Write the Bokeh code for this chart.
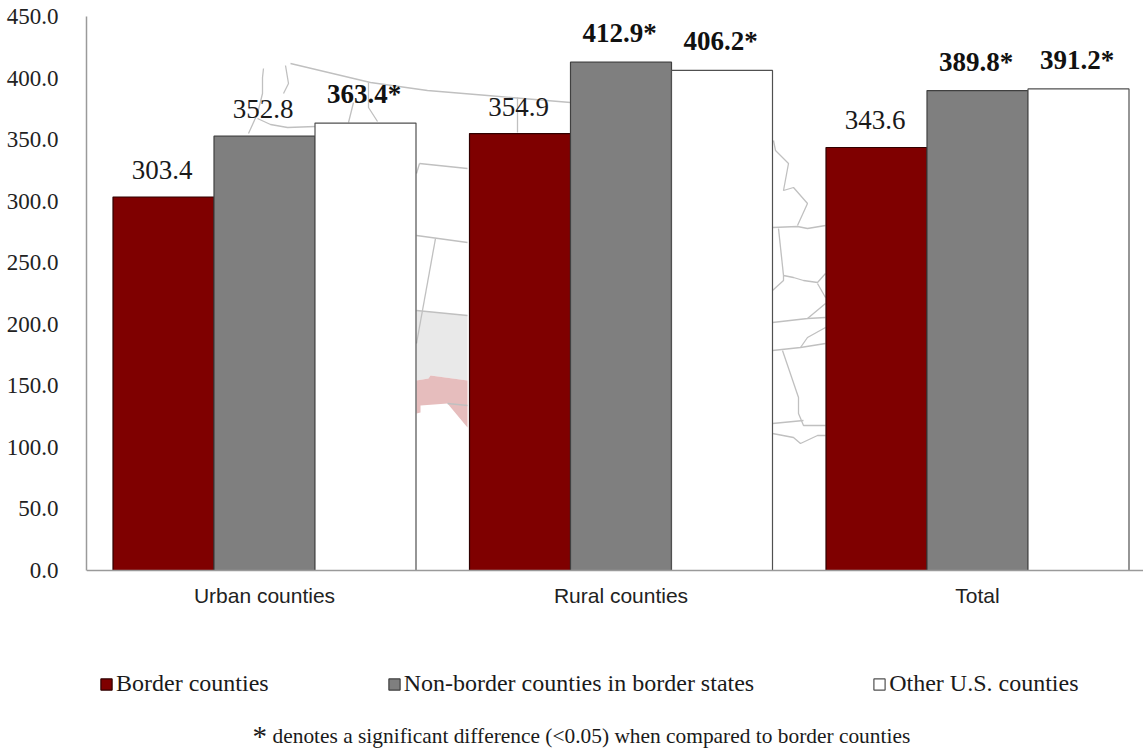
from bokeh.plotting import figure
from bokeh.embed import file_html
from bokeh.resources import INLINE
from bokeh.models import FixedTicker, Legend, LegendItem, Label, ColumnDataSource, NumeralTickFormatter
from bokeh.core.properties import value

# ---- chart data -------------------------------------------------------
categories = ["Urban counties", "Rural counties", "Total"]
series_names = ["Border counties", "Non-border counties in border states", "Other U.S. counties"]
border = [303.4, 354.9, 343.6]
nonborder = [352.8, 412.9, 389.8]
other = [363.4, 406.2, 391.2]
# which labels carry the significance star
nonborder_sig = [False, True, True]
other_sig = [True, True, True]
y_ticks = [0, 50, 100, 150, 200, 250, 300, 350, 400, 450]
footnote_star = "*"
footnote = "denotes a significant difference (<0.05) when compared to border counties"

# ---- faint map behind the bars (page pixels) ---
map_lines = [
    [(290, 63), (370, 82), (427, 90), (487, 95), (570, 102)],
    [(263, 68), (262, 77), (262, 93), (257, 113), (248, 133)],
    [(257, 118), (270, 124), (287, 127), (315, 126)],
    [(285, 65), (288, 83), (283, 93)],
    [(353, 102), (348, 122)],
    [(368, 82), (368, 107), (377, 121)],
    [(517, 97), (517, 132)],
    [(419, 163), (467, 168)],
    [(419, 163), (416, 173)],
    [(416, 235), (467, 242)],
    [(435, 238), (416, 343)],
    [(416, 310), (467, 315)],
    [(447, 403), (467, 405)],
    [(773, 140), (775, 150), (788, 163), (783, 190), (793, 187), (807, 203), (797, 225)],
    [(772, 227), (797, 226), (807, 228), (825, 225)],
    [(778, 228), (783, 275)],
    [(772, 290), (783, 280), (783, 275), (793, 277), (803, 280), (817, 282), (825, 273)],
    [(817, 283), (825, 297)],
    [(772, 322), (807, 318), (825, 303)],
    [(807, 318), (825, 317)],
    [(772, 350), (800, 347), (825, 343)],
    [(800, 347), (807, 337), (825, 327)],
    [(782, 350), (798, 397), (798, 413), (803, 425), (825, 425)],
    [(772, 423), (803, 420)],
    [(772, 433), (793, 437), (800, 443), (817, 435), (825, 435)],
]
map_grey = [(416, 310), (467, 315), (467, 380), (430, 375), (428, 378), (416, 380)]
map_red = [(416, 380), (428, 378), (430, 375), (467, 380), (467, 427), (447, 403),
           (420, 405), (420, 412), (416, 413)]

# ---- layout -----------------------------------------------------------
W, H = 1143, 751
LEFT, TOP = 86, 16
FRAME_W = W - LEFT
UNIT = 356.5                 # pixels per category
X0 = -(264 - 86) / UNIT      # left end of the x range
BAR = 101 / UNIT


def dx(px):
    return X0 + (px - 86) / UNIT


def dy(py):
    return (570 - py) * 450 / 554


# the frame runs to the page's bottom so that legend and footnote stay inside it
p = figure(width=W, height=H, output_backend="svg", toolbar_location=None,
           x_range=(X0, X0 + FRAME_W / UNIT), y_range=(dy(H), 450),
           min_border_left=LEFT, min_border_right=0, min_border_top=TOP, min_border_bottom=0)
p.outline_line_color = None
p.grid.visible = False
p.background_fill_color = "white"

# map
p.patch([dx(a) for a, b in map_grey], [dy(b) for a, b in map_grey], fill_color="#e9e9e9", line_color=None)
p.patch([dx(a) for a, b in map_red], [dy(b) for a, b in map_red], fill_color="#e6bdbd", line_color=None)
p.multi_line([[dx(a) for a, b in l] for l in map_lines], [[dy(b) for a, b in l] for l in map_lines],
             line_color="#c0c0c0", line_width=1.3)

# bars
groups = list(range(len(categories)))
styles = [(border, -1, "#7f0000", "#300000"), (nonborder, 0, "#7f7f7f", "#404040"), (other, 1, "#ffffff", "#505050")]
bars = []
for vals, off, fill, edge in styles:
    r = p.vbar(x=[g + off * BAR for g in groups], top=vals, width=BAR, bottom=0,
               fill_color=fill, line_color=edge, line_width=1.2)
    bars.append(r)

# value labels
plain = {"x": [], "y": [], "t": []}
bold = {"x": [], "y": [], "t": []}
for vals, off, sig in [(border, -1, [False] * 3), (nonborder, 0, nonborder_sig), (other, 1, other_sig)]:
    for g, v, s in zip(groups, vals, sig):
        d = bold if s else plain
        d["x"].append(g + off * BAR - 1.5 / UNIT)
        d["y"].append(v)
        d["t"].append(f"{v:.1f}" + ("*" if s else ""))
p.text(x="x", y="y", text="t", source=ColumnDataSource(plain), text_font=value("Liberation Serif"),
       text_font_size="27px", text_color="#1a1a1a", text_align="center", text_baseline="alphabetic", y_offset=-27)
p.text(x="x", y="y", text="t", source=ColumnDataSource(bold), text_font=value("Liberation Serif"),
       text_font_size="27px", text_font_style="bold", text_color="#111111", text_align="center",
       text_baseline="alphabetic", y_offset=-29)

# axes
ya = p.yaxis[0]
ya.ticker = FixedTicker(ticks=y_ticks)
ya.bounds = (0, 450)
ya.formatter = NumeralTickFormatter(format="0.0")
ya.major_tick_line_color = None
ya.minor_tick_line_color = None
ya.axis_line_color = "#9a9a9a"
ya.axis_line_width = 1.5
ya.major_label_text_font = "Liberation Serif"
ya.major_label_text_font_size = "23px"
ya.major_label_text_color = "#222222"
ya.major_label_standoff = 22

xa = p.xaxis[0]
xa.fixed_location = 0
xa.ticker = FixedTicker(ticks=groups)
xa.major_label_overrides = {g: c for g, c in zip(groups, categories)}
xa.major_tick_line_color = None
xa.minor_tick_line_color = None
xa.axis_line_color = "#9a9a9a"
xa.axis_line_width = 1.5
xa.major_label_text_font = "Liberation Sans"
xa.major_label_text_font_size = "21px"
xa.major_label_text_color = "#222222"
xa.major_label_standoff = 7

# legend
legend = Legend(items=[LegendItem(label=n, renderers=[r]) for n, r in zip(series_names, bars)],
                orientation="horizontal", location=(13, 54), margin=0, padding=0,
                spacing=118, glyph_width=14, glyph_height=14, label_standoff=3,
                label_text_font="Liberation Serif", label_text_font_size="24px", label_text_color="#1a1a1a",
                border_line_color=None, background_fill_alpha=0)
p.add_layout(legend, "center")

# footnote
p.add_layout(Label(x=166, y=0, x_units="screen", y_units="screen", text=footnote_star,
                   text_font="Liberation Serif", text_font_size="29px", text_color="#1a1a1a"))
p.add_layout(Label(x=186, y=4, x_units="screen", y_units="screen", text=footnote,
                   text_font="Liberation Serif", text_font_size="21.4px", text_color="#1a1a1a"))

open("out.html", "w").write(file_html(p, INLINE))
